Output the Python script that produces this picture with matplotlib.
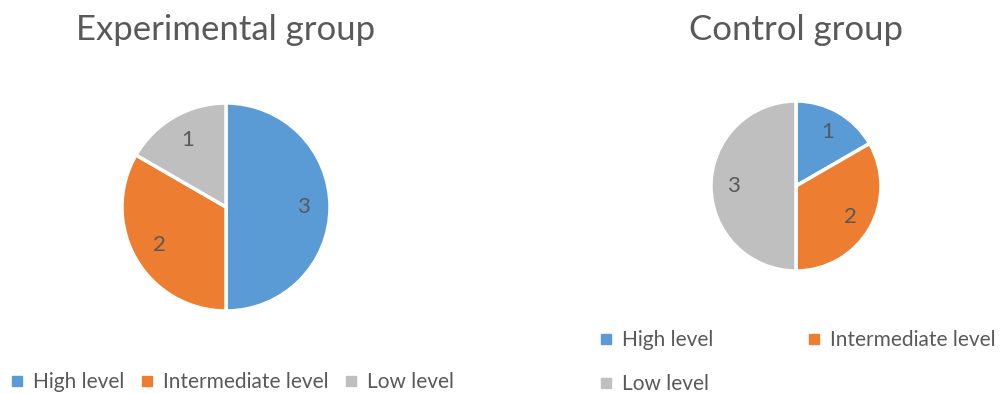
import matplotlib
matplotlib.use("Agg")
import matplotlib.pyplot as plt
from matplotlib.lines import Line2D

categories = ["High level", "Intermediate level", "Low level"]
experimental = [3, 2, 1]
control = [1, 2, 3]
titles = ["Experimental group", "Control group"]
colors = ["#5B9BD5", "#ED7D31", "#BFBFBF"]
txt = "#595959"

plt.rcParams['font.family'] = ['Lato', 'DejaVu Sans']

W, H = 1004, 394
fig = plt.figure(figsize=(W / 100, H / 100), dpi=100)

def add_pie(cx, cy, r, vals, title, ty):
    ax = fig.add_axes([(cx - r) / W, (H - cy - r) / H, 2 * r / W, 2 * r / H])
    ax.pie(vals, colors=colors, startangle=90, counterclock=False,
           labels=[str(v) for v in vals], labeldistance=0.74,
           wedgeprops=dict(edgecolor="white", linewidth=2.5),
           textprops=dict(color=txt, fontsize=16, ha="center", va="center"))
    for t in ax.texts:
        t.set_ha("center")
    ax.set_aspect("equal")
    ax.set_xlim(-1, 1); ax.set_ylim(-1, 1)
    fig.text(cx / W, 1 - ty / H, title, ha="center", va="center",
             fontsize=25, color=txt)

add_pie(226, 207, 104, experimental, titles[0], 30)
add_pie(796, 186, 85, control, titles[1], 30)

handles = [Line2D([], [], marker="s", linestyle="none", markersize=7,
                  markerfacecolor=c, markeredgecolor=c) for c in colors]

common = dict(frameon=False, fontsize=15, labelcolor=txt, handlelength=0.7,
              handletextpad=0.4, borderpad=0, borderaxespad=0)

leg1 = fig.legend(handles, categories, loc="center left", ncol=3,
                  bbox_to_anchor=(10 / W, 1 - 382 / H),
                  columnspacing=0.75, **common)
order = [0, 2, 1]
leg2 = fig.legend([handles[i] for i in order], [categories[i] for i in order],
                  loc="center left", ncol=2,
                  bbox_to_anchor=(599 / W, 1 - 362 / H),
                  columnspacing=4.5, labelspacing=1.15, **common)

fig.savefig("out.png", dpi=100)
